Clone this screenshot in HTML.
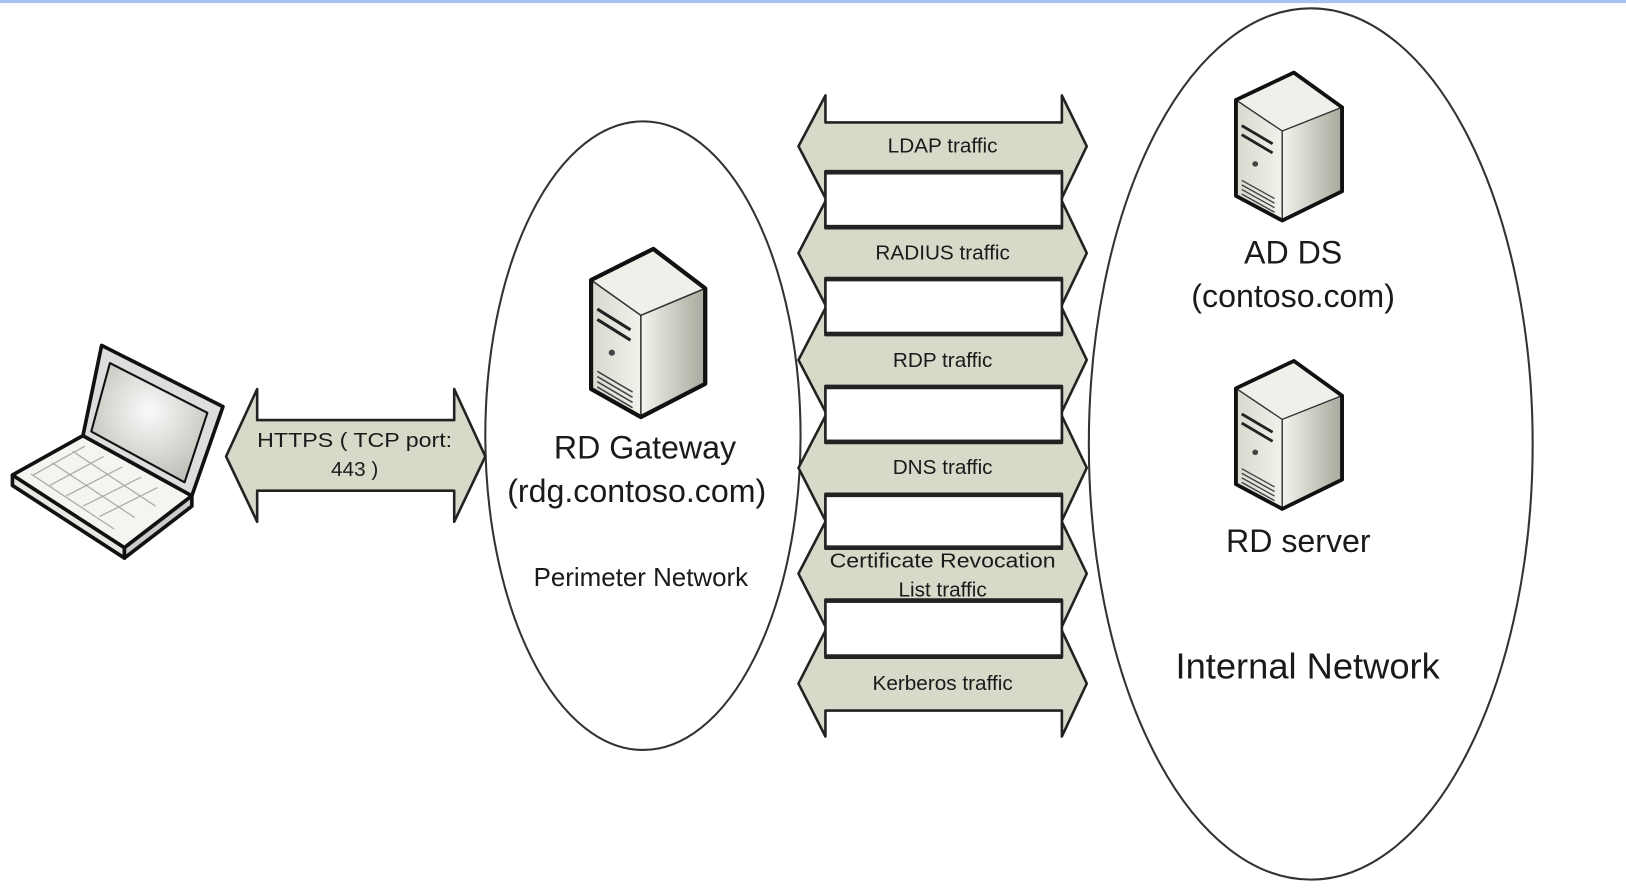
<!DOCTYPE html>
<html><head><meta charset="utf-8"><style>
html,body{margin:0;padding:0;background:#fff;width:1626px;height:890px;overflow:hidden}
svg{display:block}
text{font-family:"Liberation Sans",sans-serif;fill:#1a1a1a}
</style></head><body>
<svg width="1626" height="890" viewBox="0 0 1568 858" preserveAspectRatio="none" xmlns="http://www.w3.org/2000/svg">
<defs>
<linearGradient id="side" x1="0" y1="0" x2="1" y2="0"><stop offset="0" stop-color="#f4f4ee"/><stop offset="1" stop-color="#a8a89c"/></linearGradient>
<linearGradient id="front" x1="0" y1="0" x2="1" y2="0"><stop offset="0" stop-color="#d8d8ce"/><stop offset="1" stop-color="#f2f2ec"/></linearGradient>
<radialGradient id="scr" cx="0.5" cy="0.4" r="0.7"><stop offset="0" stop-color="#fafafa"/><stop offset="1" stop-color="#b8b8b0"/></radialGradient>
<g id="srv">
<polygon points="2,30 62,0 112,38 112,130 50,162 2,135" fill="#888" stroke="#111" stroke-width="4" stroke-linejoin="round"/>
<polygon points="2,30 62,0 112,38 50,64" fill="#f0f0ea"/>
<polygon points="2,30 50,64 50,162 2,135" fill="url(#front)"/>
<polygon points="50,64 112,38 112,130 50,162" fill="url(#side)"/>
<polyline points="2,30 50,64 112,38" fill="none" stroke="#333" stroke-width="1.5"/>
<line x1="50" y1="64" x2="50" y2="162" stroke="#333" stroke-width="1.5"/>
<line x1="8" y1="58" x2="40" y2="78" stroke="#222" stroke-width="3"/>
<line x1="8" y1="68" x2="40" y2="88" stroke="#222" stroke-width="3"/>
<circle cx="22" cy="100" r="3" fill="#444"/>
<g stroke="#444" stroke-width="1.5"><line x1="8" y1="118" x2="42" y2="138"/><line x1="8" y1="123" x2="42" y2="143"/><line x1="8" y1="128" x2="42" y2="148"/><line x1="8" y1="133" x2="42" y2="153"/></g>
<polygon points="2,30 62,0 112,38 112,130 50,162 2,135" fill="none" stroke="#111" stroke-width="4" stroke-linejoin="round"/>
</g>
</defs>
<rect x="0" y="0" width="1568" height="3" fill="#a9c0f0"/>
<ellipse cx="620" cy="420" rx="152" ry="303" fill="none" stroke="#333" stroke-width="2"/>
<ellipse cx="1264" cy="428" rx="214" ry="420" fill="none" stroke="#333" stroke-width="2"/>
<polygon points="248,405 248,375 218,440 248,503 248,473 438,473 438,503 468,440 438,375 438,405" fill="#d6dac8" stroke="#222" stroke-width="2.5" stroke-linejoin="round"/>
<text x="342" y="431" font-size="20" text-anchor="middle" textLength="188" lengthAdjust="spacingAndGlyphs">HTTPS ( TCP port:</text>
<text x="342" y="459" font-size="20" text-anchor="middle">443 )</text>
<g fill="#d6dac8" stroke="#222" stroke-width="2.5" stroke-linejoin="round">
<polygon points="796,118 796,92 770,141 796,191 796,165 1024,165 1024,191 1048,141 1024,92 1024,118"/>
<polygon points="796,220 796,194 770,244 796,294 796,268 1024,268 1024,294 1048,244 1024,194 1024,220"/>
<polygon points="796,323 796,297 770,347 796,397 796,372 1024,372 1024,397 1048,347 1024,297 1024,323"/>
<polygon points="796,427 796,401 770,451 796,502 796,476 1024,476 1024,502 1048,451 1024,401 1024,427"/>
<polygon points="796,529 796,503 770,553 796,604 796,578 1024,578 1024,604 1048,553 1024,503 1024,529"/>
<polygon points="796,634 796,608 770,659 796,710 796,685 1024,685 1024,710 1048,659 1024,608 1024,634"/>
</g>
<g fill="#fff" stroke="#222" stroke-width="2.5">
<rect x="796" y="167" width="228" height="51"/>
<rect x="796" y="270" width="228" height="51"/>
<rect x="796" y="374" width="228" height="51"/>
<rect x="796" y="478" width="228" height="49"/>
<rect x="796" y="580" width="228" height="52"/>
</g>
<g font-size="20" text-anchor="middle">
<text x="909" y="147">LDAP traffic</text>
<text x="909" y="250">RADIUS traffic</text>
<text x="909" y="354">RDP traffic</text>
<text x="909" y="457">DNS traffic</text>
<text x="909" y="547" textLength="218" lengthAdjust="spacingAndGlyphs">Certificate Revocation</text>
<text x="909" y="575">List traffic</text>
<text x="909" y="665">Kerberos traffic</text>
</g>
<use href="#srv" x="568" y="240"/>
<use href="#srv" x="1190" y="70" transform="translate(1190,70) scale(0.93,0.88) translate(-1190,-70)"/>
<use href="#srv" x="1190" y="348" transform="translate(1190,348) scale(0.93,0.88) translate(-1190,-348)"/>
<!-- laptop -->
<g stroke="#111" stroke-width="3.5" stroke-linejoin="round">
<polygon points="12,458 80,420 185,478 120,528 120,538 12,468" fill="#e8e8e2"/>
<polygon points="12,458 80,420 185,478 120,528" fill="#f4f4f0"/>
<polygon points="120,528 185,478 185,488 120,538" fill="#ccc"/>
<polygon points="98,333 215,392 185,478 80,420" fill="#ddd"/>
<polygon points="106,350 200,398 178,465 88,416" fill="url(#scr)" stroke-width="2"/>
</g>
<g stroke="#aaa" stroke-width="1.2" fill="none">
<line x1="32" y1="458" x2="82" y2="430"/><line x1="48" y1="468" x2="100" y2="440"/><line x1="64" y1="478" x2="118" y2="450"/><line x1="80" y1="488" x2="136" y2="460"/><line x1="96" y1="498" x2="152" y2="470"/>
<line x1="30" y1="457" x2="110" y2="510"/><line x1="50" y1="446" x2="130" y2="499"/><line x1="70" y1="435" x2="150" y2="488"/>
</g>
<g text-anchor="middle">
<text x="622" y="442" font-size="31">RD Gateway</text>
<text x="614" y="484" font-size="31">(rdg.contoso.com)</text>
<text x="618" y="565" font-size="25">Perimeter Network</text>
<text x="1247" y="254" font-size="31">AD DS</text>
<text x="1247" y="296" font-size="31">(contoso.com)</text>
<text x="1252" y="532" font-size="31">RD server</text>
<text x="1261" y="654" font-size="35">Internal Network</text>
</g>
</svg>
</body></html>
